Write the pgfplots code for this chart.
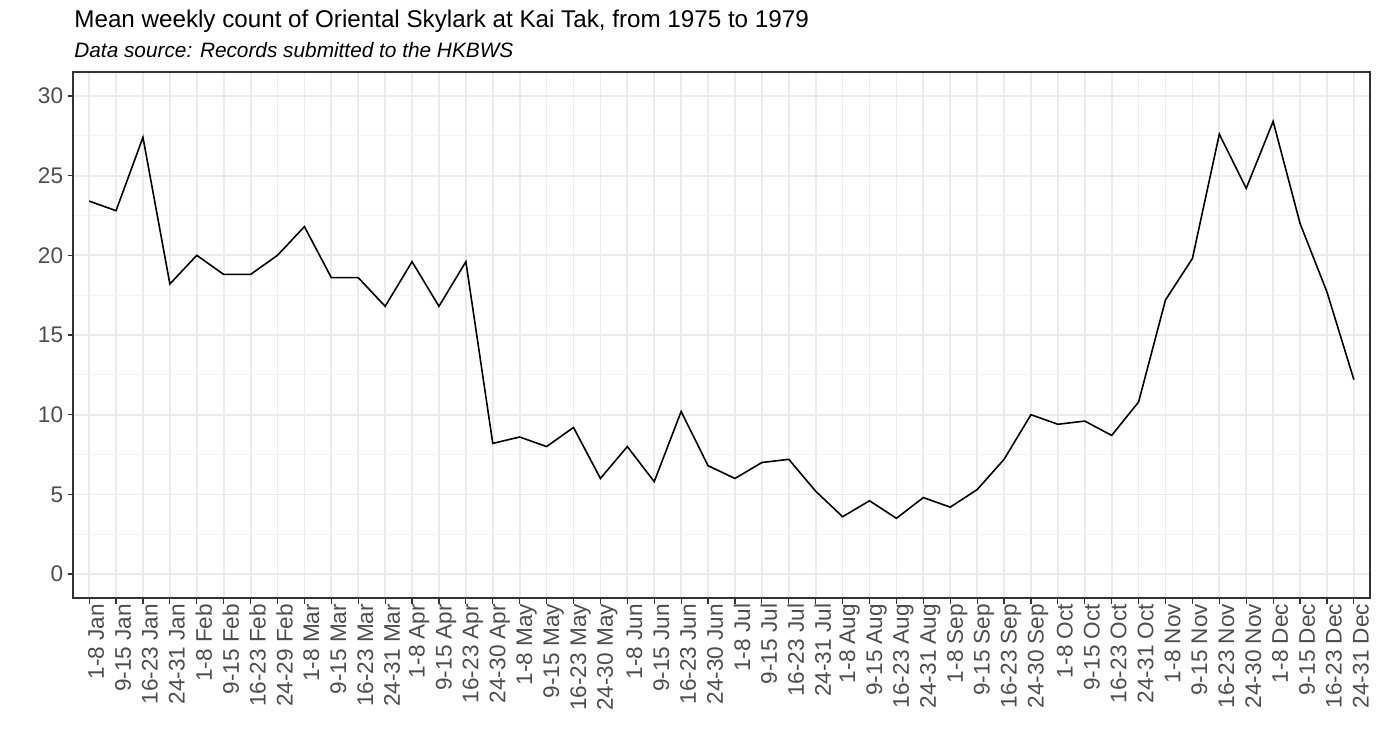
\documentclass[border=0pt]{standalone}
\usepackage{pgfplots}
\pgfplotsset{compat=1.18}
\usepackage{pgfplotstable}
\usepackage{fontspec}
\setmainfont{Liberation Sans}
\definecolor{grid92}{HTML}{EBEBEB}
\definecolor{gridminor}{HTML}{F3F3F3}
\definecolor{grey30}{HTML}{4D4D4D}
\definecolor{grey20}{HTML}{333333}
\pgfplotstableread{
x y
0 23.4
1 22.8
2 27.4
3 18.2
4 20.0
5 18.8
6 18.8
7 20.0
8 21.8
9 18.6
10 18.6
11 16.8
12 19.6
13 16.8
14 19.6
15 8.2
16 8.6
17 8.0
18 9.2
19 6.0
20 8.0
21 5.8
22 10.2
23 6.8
24 6.0
25 7.0
26 7.2
27 5.2
28 3.6
29 4.6
30 3.5
31 4.8
32 4.2
33 5.3
34 7.2
35 10.0
36 9.4
37 9.6
38 8.7
39 10.8
40 17.2
41 19.8
42 27.6
43 24.2
44 28.4
45 22.0
46 17.7
47 12.2
}\datatable
\begin{document}
\begin{tikzpicture}
\begin{axis}[
  scale only axis,
  width=648.5pt, height=263pt,
  xmin=-0.6, xmax=47.6,
  ymin=-1.5, ymax=31.5,
  xtick={0,...,47},
  xticklabels={1-8 Jan,9-15 Jan,16-23 Jan,24-31 Jan,1-8 Feb,9-15 Feb,16-23 Feb,24-29 Feb,1-8 Mar,9-15 Mar,16-23 Mar,24-31 Mar,1-8 Apr,9-15 Apr,16-23 Apr,24-30 Apr,1-8 May,9-15 May,16-23 May,24-30 May,1-8 Jun,9-15 Jun,16-23 Jun,24-30 Jun,1-8 Jul,9-15 Jul,16-23 Jul,24-31 Jul,1-8 Aug,9-15 Aug,16-23 Aug,24-31 Aug,1-8 Sep,9-15 Sep,16-23 Sep,24-30 Sep,1-8 Oct,9-15 Oct,16-23 Oct,24-31 Oct,1-8 Nov,9-15 Nov,16-23 Nov,24-30 Nov,1-8 Dec,9-15 Dec,16-23 Dec,24-31 Dec},
  ytick={0,5,10,15,20,25,30},
  minor ytick={-1.5,2.5,7.5,12.5,17.5,22.5,27.5},
  xmajorgrids, ymajorgrids, yminorgrids,
  major grid style={draw=grid92, line width=0.9pt},
  minor grid style={draw=gridminor, line width=0.45pt},
  axis line style={draw=grey20, line width=0.6pt},
  tick align=outside,
  major tick length=2.75pt,
  minor tick length=0pt,
  tick style={draw=grey20, line width=0.6pt},
  every tick/.style={draw=grey20, line width=0.6pt},
  xticklabel style={rotate=90, anchor=east, font=\fontsize{11.3}{13}\selectfont, text=grey30, inner sep=0pt, yshift=-3.5pt},
  yticklabel style={anchor=east, font=\fontsize{11.3}{13}\selectfont, text=grey30, inner sep=0pt, xshift=-2pt},
  /pgf/number format/assume math mode=true,
  xtick pos=bottom, ytick pos=left,
  clip=true,
]
\addplot[black, line width=0.8pt, mark=none] table[x=x,y=y] {\datatable};
\end{axis}
\node[anchor=base west, inner sep=0pt, font=\fontsize{12.1}{14}\selectfont] at ([xshift=0.5pt,yshift=22.5pt]current axis.north west) {Mean weekly count of Oriental Skylark at Kai Tak, from 1975 to 1979};
\node[anchor=base west, inner sep=0pt, font=\fontsize{10.4}{12}\selectfont\itshape] at ([xshift=0.5pt,yshift=7.5pt]current axis.north west) {Data source: Records submitted to the HKBWS};
\pgfresetboundingbox
\path[use as bounding box] ([xshift=-36.5pt,yshift=-76.5pt]current axis.south west) rectangle ++(690pt,375.5pt);
\end{tikzpicture}
\end{document}
